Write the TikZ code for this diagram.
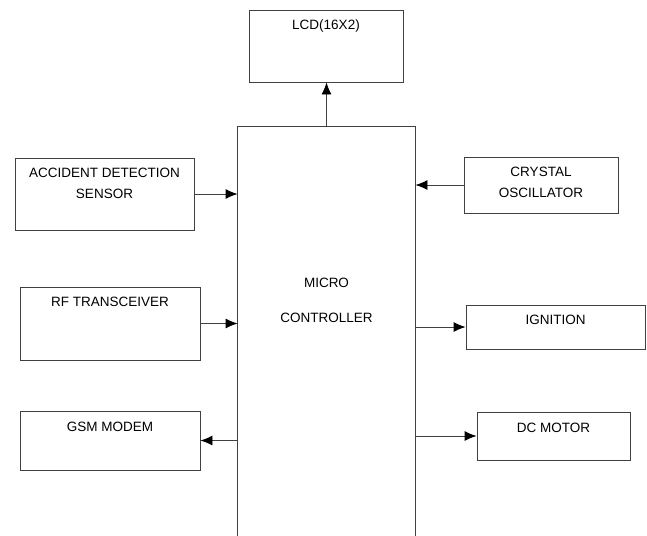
\documentclass[tikz,border=0pt]{standalone}
\usepackage{fontspec}
\setmainfont{Liberation Sans}
\usetikzlibrary{arrows.meta}

\tikzset{
	blk/.style={draw=black!75,line width=0.9pt,rectangle,inner sep=0pt},
	txt/.style={anchor=north,inner sep=0pt,align=center,text=black,
		font=\fontsize{13.5}{21}\selectfont},
	arr/.style={draw=black!75,line width=0.9pt,-{Latex[length=12pt,width=10pt,color=black]}}
}

\begin{document}
\begin{tikzpicture}[x=1pt,y=-1pt]
	\useasboundingbox (0,0) rectangle (647,535);
	
	% blocks
	\node[blk,minimum width=154,minimum height=72,
		label={[txt,yshift=-10.3pt]north:LCD(16X2)}] (lcd) at (326,46) {};
	\node[blk,minimum width=179,minimum height=72,
		label={[txt,yshift=-10.3pt]north:ACCIDENT DETECTION\\SENSOR}] (acc) at (104.5,194) {};
	\node[blk,minimum width=154,minimum height=56,
		label={[txt,yshift=-10.3pt]north:CRYSTAL\\OSCILLATOR}] (xtal) at (541,185) {};
	\node[blk,minimum width=180,minimum height=73,
		label={[txt,yshift=-10.3pt]north:RF TRANSCEIVER}] (rf) at (110,323.5) {};
	\node[blk,minimum width=179,minimum height=44,
		label={[txt,yshift=-10.3pt]north:IGNITION}] (ign) at (555.5,327) {};
	\node[blk,minimum width=180,minimum height=59,
		label={[txt,yshift=-11pt]north:GSM MODEM}] (gsm) at (110,440.5) {};
	\node[blk,minimum width=153,minimum height=48,
		label={[txt,yshift=-11pt]north:DC MOTOR}] (dc) at (553.5,436) {};
	
	% micro controller, open at the bottom
	\node[blk,draw=none,minimum width=177,minimum height=418,
		label={[txt,yshift=-151.5pt,font=\fontsize{13.5}{35}\selectfont]north:MICRO\\CONTROLLER}] (mcu) at (326.5,336) {};
	\draw[black!75,line width=0.9pt] (mcu.south west) -- (mcu.north west) -- (mcu.north east) -- (mcu.south east);
	
	% connections
	\draw[arr] (mcu.north) -- (mcu.north |- lcd.south);
	\draw[arr] (acc.east) -- (acc.east -| mcu.west);
	\draw[arr] (xtal.west) -- (xtal.west -| mcu.east);
	\draw[arr] (rf.east) -- (rf.east -| mcu.west);
	\draw[arr] (mcu.east |- ign.west) -- (ign.west);
	\draw[arr] (mcu.west |- gsm.east) -- (gsm.east);
	\draw[arr] (mcu.east |- dc.west) -- (dc.west);
\end{tikzpicture}
\end{document}
